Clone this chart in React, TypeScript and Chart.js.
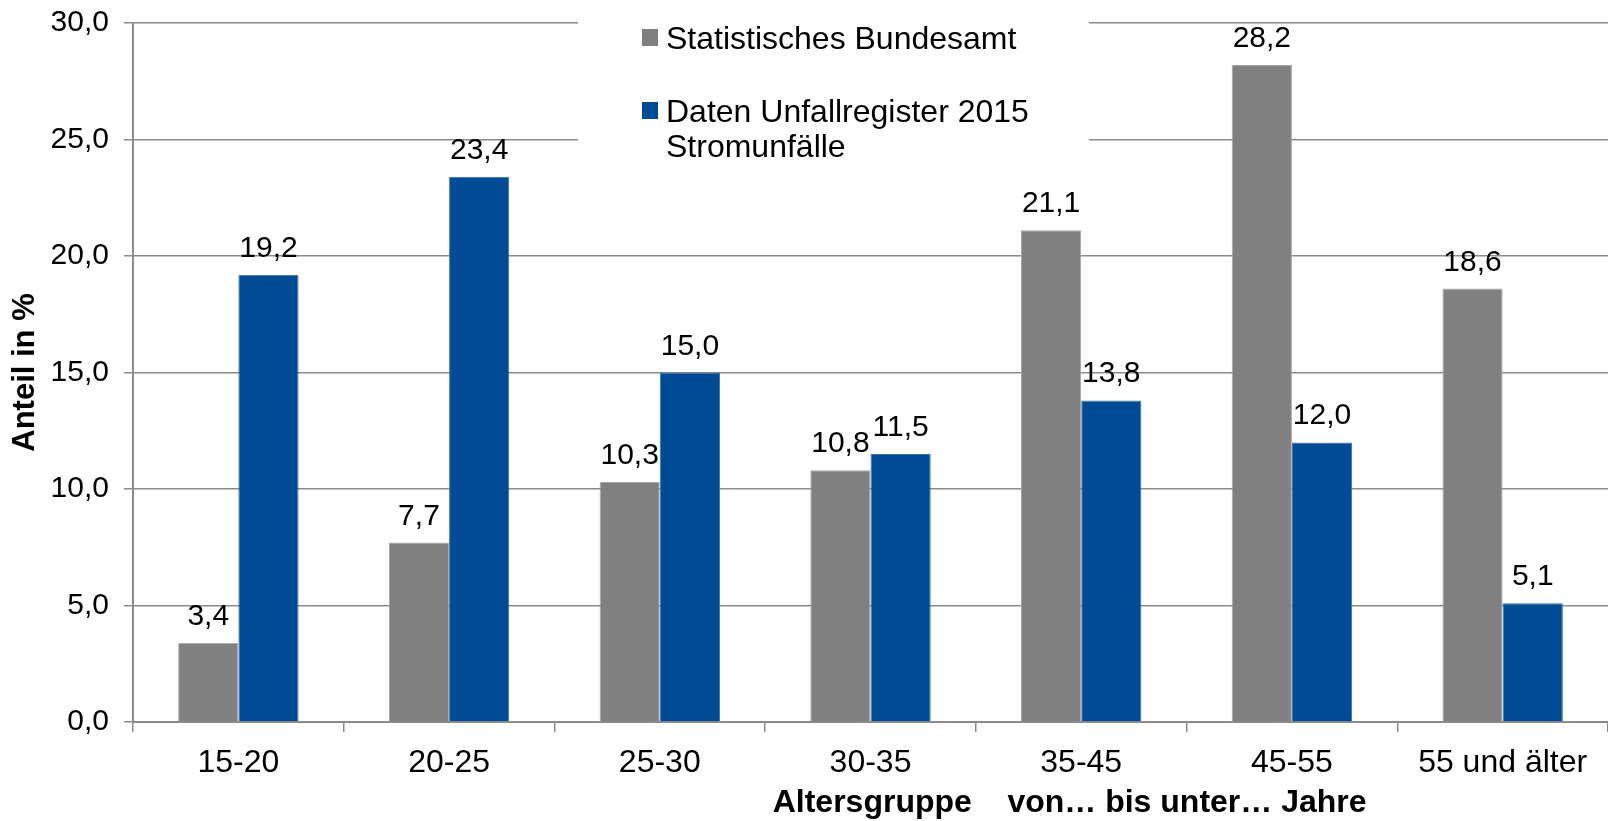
import React, { useEffect, useRef } from "react";
import { Chart, registerables } from "chart.js";

Chart.register(...registerables);

const categories = ["15-20", "20-25", "25-30", "30-35", "35-45", "45-55", "55 und älter"];
const seriesBundesamt = [3.4, 7.7, 10.3, 10.8, 21.1, 28.2, 18.6];
const seriesUnfallregister = [19.2, 23.4, 15.0, 11.5, 13.8, 12.0, 5.1];
const seriesNames = ["Statistisches Bundesamt", "Daten Unfallregister 2015|Stromunfälle"];
const yTitle = "Anteil in %";
const xTitle = "Altersgruppe    von… bis unter… Jahre";

const GRAY = "#808080";
const BLUE = "#004B93";
const GRID = "#8c8c8c";
const FONT = "'Liberation Sans', Arial, sans-serif";

const fmt = (v: number) => v.toFixed(1).replace(".", ",");

const labelsPlugin = {
  id: "valueLabels",
  afterDatasetsDraw(chart: any) {
    const ctx = chart.ctx;
    ctx.save();
    ctx.font = `30px ${FONT}`;
    ctx.fillStyle = "#000";
    ctx.textAlign = "center";
    ctx.textBaseline = "alphabetic";
    chart.data.datasets.forEach((ds: any, i: number) => {
      const meta = chart.getDatasetMeta(i);
      meta.data.forEach((bar: any, j: number) => {
        ctx.fillText(fmt(ds.data[j]), bar.x, bar.y - 18);
      });
    });
    ctx.restore();
  },
};

const decorPlugin = {
  id: "decor",
  afterDraw(chart: any) {
    const ctx = chart.ctx;
    const area = chart.chartArea;
    ctx.save();
    // legend box
    ctx.fillStyle = "#fff";
    ctx.fillRect(578, 0, 511, 172);
    const colors = [GRAY, BLUE];
    const tops = [29, 102];
    ctx.font = `32px ${FONT}`;
    ctx.fillStyle = "#000";
    ctx.textAlign = "left";
    ctx.textBaseline = "alphabetic";
    seriesNames.forEach((name, i) => {
      ctx.fillStyle = colors[i];
      ctx.fillRect(642, tops[i], 16, 17);
      ctx.fillStyle = "#000";
      const lines = name.split("|");
      lines.forEach((ln, k) => {
        ctx.fillText(ln, 666, tops[i] + 20 + k * 35);
      });
    });
    // y title
    ctx.font = `bold 31px ${FONT}`;
    ctx.textAlign = "center";
    ctx.textBaseline = "middle";
    ctx.translate(25, (area.top + area.bottom) / 2);
    ctx.rotate(-Math.PI / 2);
    ctx.fillText(yTitle, 0, 0);
    ctx.restore();
    // x title
    ctx.save();
    ctx.font = `bold 32px ${FONT}`;
    ctx.fillStyle = "#000";
    ctx.textAlign = "center";
    ctx.textBaseline = "alphabetic";
    ctx.fillText(xTitle, area.left + (area.right - area.left) * 0.635, 812);
    ctx.restore();
  },
};

export default function App() {
  const ref = useRef<HTMLCanvasElement>(null);
  useEffect(() => {
    if (!ref.current) return;
    const chart = new Chart(ref.current, {
      type: "bar",
      data: {
        labels: categories,
        datasets: [
          {
            label: seriesNames[0],
            data: seriesBundesamt,
            backgroundColor: GRAY,
            borderColor: "#a6a6a6",
            borderWidth: 1,
            categoryPercentage: 120 / 210,
            barPercentage: 1,
          },
          {
            label: seriesNames[1],
            data: seriesUnfallregister,
            backgroundColor: BLUE,
            borderColor: "#3d72ab",
            borderWidth: 1,
            categoryPercentage: 120 / 210,
            barPercentage: 1,
          },
        ],
      },
      plugins: [labelsPlugin, decorPlugin],
      options: {
        responsive: false,
        animation: false,
        layout: { padding: { top: 23, right: 0, left: 0, bottom: 0 } },
        plugins: {
          legend: { display: false },
          tooltip: { enabled: false },
        },
        scales: {
          x: {
            offset: true,
            grid: {
              display: true,
              drawOnChartArea: false,
              drawTicks: true,
              tickLength: 10,
              offset: true,
              color: GRID,
              lineWidth: 1.5,
            },
            border: { display: true, color: GRID, width: 2 },
            ticks: {
              color: "#000",
              font: { family: FONT, size: 32 },
              padding: 12,
              maxRotation: 0,
              autoSkip: false,
            },
            afterFit: (scale: any) => {
              scale.height = 99;
              scale.paddingLeft = 0;
              scale.paddingRight = 0;
            },
          },
          y: {
            min: 0,
            max: 30,
            grid: {
              color: GRID,
              lineWidth: 1.5,
              drawTicks: true,
              tickLength: 9,
            },
            border: { display: true, color: GRID, width: 2 },
            ticks: {
              stepSize: 5,
              color: "#000",
              font: { family: FONT, size: 30 },
              padding: 15,
              callback: (v: any) => fmt(Number(v)),
            },
            afterFit: (scale: any) => {
              scale.width = 133;
              scale.paddingTop = 0;
              scale.paddingBottom = 0;
            },
          },
        },
      },
    });
    return () => chart.destroy();
  }, []);
  return (
    <div style={{ position: "fixed", left: 0, top: 0, width: 1608, height: 821, background: "#fff" }}>
      <canvas ref={ref} width={1608} height={821} />
    </div>
  );
}
